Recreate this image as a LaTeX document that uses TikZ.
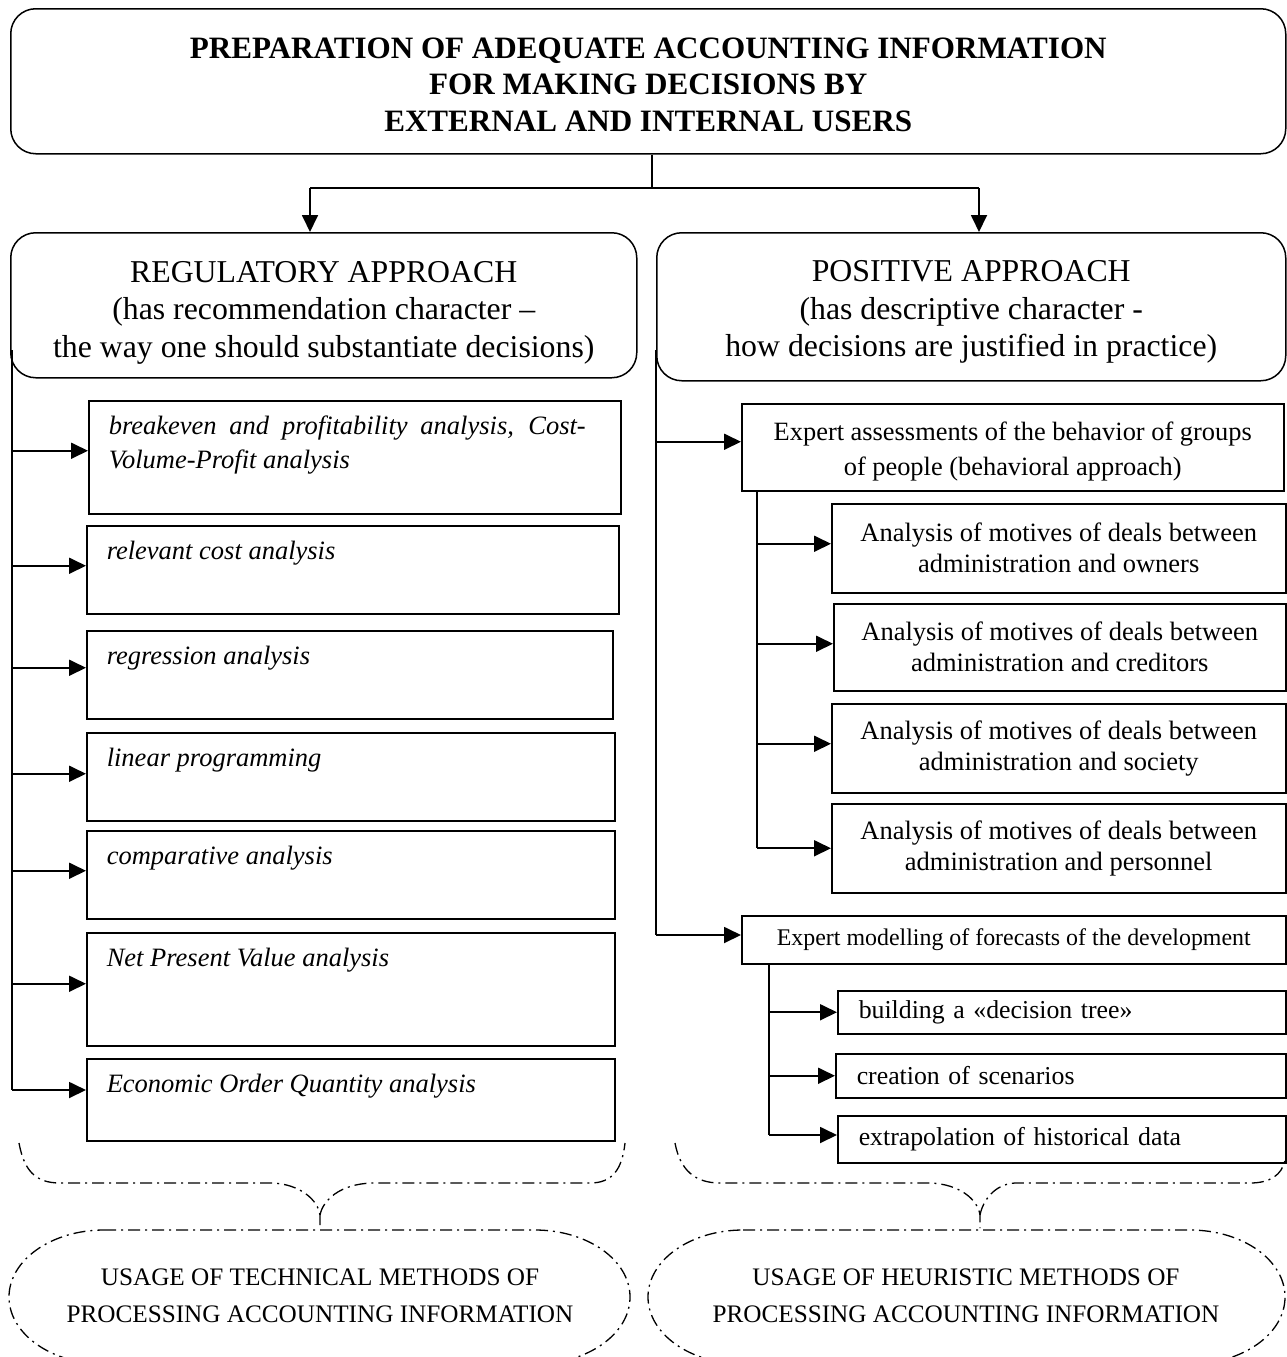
\documentclass[tikz,border=0pt]{standalone}
\usepackage{fontspec}
\setmainfont{Liberation Serif}
\usetikzlibrary{arrows.meta}
\newcommand\ttlfont{\fontsize{31.1}{36.5}\selectfont\bfseries}
\newcommand\apfont{\fontsize{31.8}{37.5}\selectfont}
\newcommand\itfont{\fontsize{26.5}{34}\selectfont\itshape}
\newcommand\eafont{\fontsize{26.4}{35}\selectfont}
\newcommand\mfont{\fontsize{26.5}{31}\selectfont}
\newcommand\emfont{\fontsize{23.9}{26}\selectfont}
\newcommand\sfont{\fontsize{25.8}{28}\selectfont}
\newcommand\ufont{\fontsize{25.2}{37}\selectfont}
\tikzset{
  bx/.style={draw, line width=1.5pt, inner sep=0pt, anchor=north west},
  rbx/.style={bx, rounded corners=25pt, align=center},
  cbx/.style={bx, align=center},
  arr/.style={line width=1.8pt, -{Triangle[length=17pt,width=16pt]}},
  ln/.style={line width=1.8pt},
  dd/.style={line width=1.3pt, dash pattern=on 12pt off 5pt on 2pt off 5pt},
}
% left italic box: name, x, y, width, height, text
\newcommand\lbx[6]{\node[bx] (#1) at (#2,#3) {\parbox[t][#5pt][t]{#4pt}{\itfont\parindent=0pt\leftskip=20pt\rightskip=35pt\parfillskip=0pt plus 1fil\hbadness=10000\vspace*{15pt}#6}};}
% left-aligned single line box
\newcommand\sbx[6]{\node[bx, minimum height=#5pt, text width={#4pt-42pt}, inner xsep=21pt, align=left, font=\sfont] (#1) at (#2,#3) {#6};}
% dash-dot oval: left, right, top
\newcommand\ovl[3]{\draw[dd] ({#1+95},#3) -- ({#2-95},#3) .. controls ({#2-95+52.4},#3) and (#2,{#3+67-37}) .. (#2,{#3+67}) .. controls (#2,{#3+67+37}) and ({#2-95+52.4},{#3+134}) .. ({#2-95},{#3+134}) -- ({#1+95},{#3+134}) .. controls ({#1+95-52.4},{#3+134}) and (#1,{#3+67+37}) .. (#1,{#3+67}) .. controls (#1,{#3+67-37}) and ({#1+95-52.4},#3) .. cycle;}
\begin{document}
\begin{tikzpicture}[x=1pt,y=-1pt]
\useasboundingbox (0,0) rectangle (1287,1357);

% title
\node[rbx, minimum width=1275pt, minimum height=145pt, font=\ttlfont] (top) at (10,8)
  {\rule{0pt}{27pt}PREPARATION OF ADEQUATE ACCOUNTING INFORMATION\\FOR MAKING DECISIONS BY\\EXTERNAL AND INTERNAL USERS};

% approaches
\node[rbx, minimum width=626pt, minimum height=145pt, font=\apfont] (reg) at (10,232)
  {\rule{0pt}{36pt}REGULATORY APPROACH\\(has recommendation character \textendash\\the way one should substantiate decisions)};
\node[rbx, minimum width=629pt, minimum height=148pt, font=\apfont] (pos) at (656,232)
  {\rule{0pt}{32pt}POSITIVE APPROACH\\(has descriptive character -\\how decisions are justified in practice)};

\coordinate (jn) at (652,188);
\coordinate (jl) at (310,188);
\coordinate (jr) at (979,188);
\draw[ln] (top.south -| jn) -- (jn);
\draw[ln] (jl) -- (jr);
\draw[arr] (jl) -- (jl |- reg.north);
\draw[arr] (jr) -- (jr |- pos.north);

% left boxes
\lbx{b1}{88}{400}{532}{113}{breakeven and profitability analysis, Cost-\linebreak Volume-Profit analysis}
\lbx{b2}{86}{525}{532}{88}{relevant cost analysis}
\lbx{b3}{86}{630}{526}{88}{regression analysis}
\lbx{b4}{86}{732}{528}{88}{linear programming}
\lbx{b5}{86}{830}{528}{88}{comparative analysis}
\lbx{b6}{86}{932}{528}{113}{Net Present Value analysis}
\lbx{b7}{86}{1058}{528}{82}{Economic Order Quantity analysis}

\coordinate (sl) at (12,350);
\coordinate (sle) at (12,1090);
\draw[ln] (sl) -- (sle);
\draw[arr] ([yshift=6.5pt]b1.west -| sl) -- ([yshift=6.5pt]b1.west);
\draw[arr] ([yshift=4pt]b2.west -| sl) -- ([yshift=4pt]b2.west);
\draw[arr] ([yshift=7pt]b3.west -| sl) -- ([yshift=7pt]b3.west);
\draw[arr] ([yshift=3pt]b4.west -| sl) -- ([yshift=3pt]b4.west);
\draw[arr] ([yshift=4pt]b5.west -| sl) -- ([yshift=4pt]b5.west);
\draw[arr] ([yshift=5.5pt]b6.west -| sl) -- ([yshift=5.5pt]b6.west);
\draw[arr] (sle) -- (sle -| b7.west);

% right side
\node[cbx, minimum width=542pt, minimum height=87pt, font=\eafont] (ea) at (741,403)
  {\rule{0pt}{27.5pt}Expert assessments of the behavior of groups\\of people (behavioral approach)};
\node[cbx, minimum width=454pt, minimum height=89pt, font=\mfont] (m1) at (831,503)
  {Analysis of motives of deals between\\administration and owners};
\node[cbx, minimum width=452pt, minimum height=87pt, font=\mfont] (m2) at (833,603)
  {Analysis of motives of deals between\\administration and creditors};
\node[cbx, minimum width=454pt, minimum height=89pt, font=\mfont] (m3) at (831,703)
  {Analysis of motives of deals between\\administration and society};
\node[cbx, minimum width=454pt, minimum height=89pt, font=\mfont] (m4) at (831,803)
  {Analysis of motives of deals between\\administration and personnel};
\node[cbx, minimum width=544pt, minimum height=48pt, font=\emfont] (em) at (741,915)
  {Expert modelling of forecasts of the development};
\sbx{s1}{837}{990}{448}{43}{building a «decision tree»}
\sbx{s2}{835}{1053}{450}{44}{creation of scenarios}
\sbx{s3}{837}{1115}{448}{47}{extrapolation of historical data}

\coordinate (sr) at (656,350);
\coordinate (sre) at (656,935);
\draw[ln] (sr) -- (sre);
\draw[arr] ([yshift=5.5pt]ea.west -| sr) -- ([yshift=5.5pt]ea.west);
\draw[arr] (sre) -- (sre -| em.west);

\coordinate (ia) at (757,490);
\draw[ln] (ia) -- (ia |- m4.west);
\draw[arr] ([yshift=4.5pt]m1.west -| ia) -- ([yshift=4.5pt]m1.west);
\draw[arr] ([yshift=3.5pt]m2.west -| ia) -- ([yshift=3.5pt]m2.west);
\draw[arr] ([yshift=4.5pt]m3.west -| ia) -- ([yshift=4.5pt]m3.west);
\draw[arr] (m4.west -| ia) -- (m4.west);

\coordinate (ib) at (769,963);
\coordinate (ibe) at (769,1135);
\draw[ln] (ib) -- (ibe);
\draw[arr] (s1.west -| ib) -- (s1.west);
\draw[arr] (s2.west -| ib) -- (s2.west);
\draw[arr] (ibe) -- (ibe -| s3.west);

% braces
\draw[dd] (19,1143) .. controls (24,1170) and (35,1183) .. (60,1183) -- (272,1183) .. controls (300,1184) and (318,1200) .. (320,1215) -- (320,1228);
\draw[dd] (320,1215) .. controls (323,1200) and (340,1184) .. (372,1183) -- (590,1183) .. controls (612,1183) and (622,1170) .. (625,1143);
\draw[dd] (675,1143) .. controls (680,1170) and (695,1183) .. (720,1183) -- (930,1183) .. controls (960,1184) and (978,1200) .. (980,1215) -- (980,1228);
\draw[dd] (980,1215) .. controls (983,1200) and (995,1184) .. (1015,1183) -- (1250,1183) .. controls (1270,1183) and (1282,1175) .. (1285,1160);

% ovals
\ovl{9}{630}{1230}
\ovl{648}{1285}{1230}
\node[font=\ufont, align=center] (ut) at (320,1296)
  {USAGE OF TECHNICAL METHODS OF\\PROCESSING ACCOUNTING INFORMATION};
\node[font=\ufont, align=center] (uh) at (966,1296)
  {USAGE OF HEURISTIC METHODS OF\\PROCESSING ACCOUNTING INFORMATION};
\end{tikzpicture}
\end{document}
